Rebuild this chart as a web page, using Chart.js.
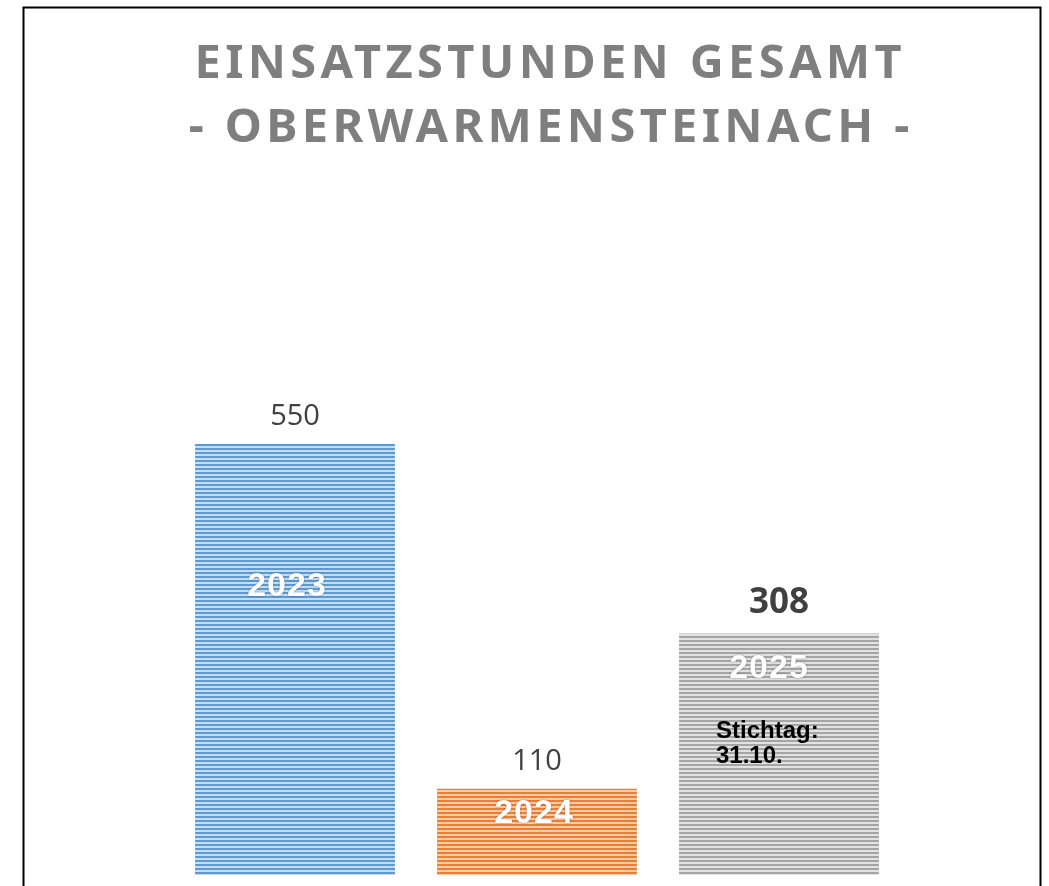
<!DOCTYPE html>
<html>
<head>
<meta charset="utf-8">
<script src="https://cdn.jsdelivr.net/npm/chart.js@4"></script>
<style>
    html, body { margin: 0; padding: 0; background: #fff; }
    #wrap { position: relative; width: 1049px; height: 886px; }
</style>
</head>
<body>
<div id="wrap"><canvas id="chart" width="1049" height="886"></canvas></div>
<script>
// Data
const categories = ["2023", "2024", "2025"];
const hours = [550, 110, 308];
const titleLines = ["EINSATZSTUNDEN GESAMT", "- OBERWARMENSTEINACH -"];
const noteLines = ["Stichtag:", "31.10."];

// Colours (dark stripe / light stripe)
const barColors = [["#5B9BD5", "#C8DCF0"], ["#ED7D31", "#F8CBAA"], ["#A5A5A5", "#E2E2E2"]];

// Label offsets relative to each bar (x from bar centre, y from bar top)
const yearOffsets = [[-9, 152], [-4, 34], [-11, 44]];

let makeStripes = (dark, light) => {
    let c = document.createElement("canvas");
    c.width = 1;
    c.height = 4;
    let g = c.getContext("2d");
    g.fillStyle = light;
    g.fillRect(0, 0, 1, 4);
    g.fillStyle = dark;
    g.fillRect(0, 0, 1, 2);
    return g.createPattern(c, "repeat");
};

let ctx0 = document.getElementById("chart").getContext("2d");
let patterns = barColors.map(c => makeStripes(c[0], c[1]));

// Title, frame and labels
const decorPlugin = {
    id: "decor",
    beforeDraw(chart) {
        let ctx = chart.ctx;
        ctx.save();
        ctx.fillStyle = "#fff";
        ctx.fillRect(0, 0, chart.width, chart.height);
        ctx.restore();
    },
    afterDatasetsDraw(chart) {
        let ctx = chart.ctx,
            meta = chart.getDatasetMeta(0);
        ctx.save();
        // frame
        ctx.strokeStyle = "#000";
        ctx.lineWidth = 2;
        ctx.strokeRect(23.5, 7.5, 1017, 900);
        // title
        ctx.fillStyle = "#7F7F7F";
        ctx.textAlign = "center";
        ctx.textBaseline = "alphabetic";
        ctx.font = "bold 47px 'Noto Sans'";
        ctx.letterSpacing = "0px";
        let w = ctx.measureText(titleLines[0]).width;
        let spacing = (707 - w) / (titleLines[0].length - 1);
        ctx.letterSpacing = spacing + "px";
        ctx.fillText(titleLines[0], 548 + spacing / 2, 78);
        ctx.fillText(titleLines[1], 549 + spacing / 2, 142);
        ctx.letterSpacing = "0px";
        // value labels
        meta.data.forEach((bar, i) => {
            ctx.fillStyle = "#404040";
            if (i == 2) {
                ctx.font = "bold 35px 'Open Sans'";
                ctx.fillText(hours[i], bar.x, bar.y - 21);
            } else {
                ctx.font = "29px 'Open Sans'";
                ctx.fillText(hours[i], bar.x, bar.y - 19);
            }
            // year inside bar
            ctx.font = "bold 34px 'Liberation Sans'";
            ctx.letterSpacing = "1px";
            ctx.shadowColor = "rgba(0,0,0,0.4)";
            ctx.shadowBlur = 2;
            ctx.fillStyle = "#fff";
            ctx.fillText(categories[i], bar.x + yearOffsets[i][0] + 1, bar.y + yearOffsets[i][1]);
            ctx.shadowColor = "transparent";
            ctx.shadowBlur = 0;
            ctx.letterSpacing = "0px";
        });
        // note inside last bar
        let last = meta.data[2];
        ctx.fillStyle = "#000";
        ctx.textAlign = "left";
        ctx.font = "bold 24px 'Liberation Sans'";
        ctx.fillText(noteLines[0], last.x - 63, last.y + 104);
        ctx.fillText(noteLines[1], last.x - 63, last.y + 129);
        ctx.restore();
    }
};

new Chart(ctx0, {
    type: "bar",
    data: {
        labels: categories,
        datasets: [{
            data: hours,
            backgroundColor: patterns,
            borderWidth: 0,
            barPercentage: 0.826,
            categoryPercentage: 1
        }]
    },
    options: {
        responsive: false,
        animation: false,
        layout: { padding: { left: 174, right: 149, top: 201, bottom: 11 } },
        plugins: {
            legend: { display: false },
            tooltip: { enabled: false },
            title: { display: false }
        },
        scales: {
            x: { display: false },
            y: { display: false, min: 0, max: 860 }
        }
    },
    plugins: [decorPlugin]
});
</script>
</body>
</html>
